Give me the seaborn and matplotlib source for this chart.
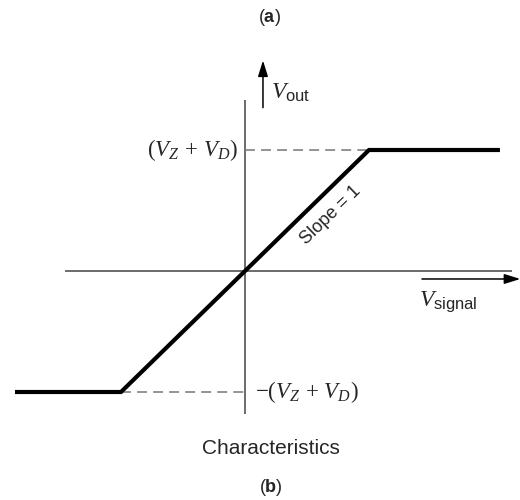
import matplotlib
matplotlib.use("Agg")
import matplotlib.pyplot as plt
import numpy as np
import pandas as pd
import seaborn as sns

sns.set_theme(style="white")
plt.rcParams["font.family"] = ["Liberation Sans", "DejaVu Sans"]
plt.rcParams["mathtext.fontset"] = "custom"
plt.rcParams["mathtext.rm"] = "Liberation Serif"
plt.rcParams["mathtext.it"] = "Liberation Serif:italic"
plt.rcParams["mathtext.bf"] = "Liberation Sans:bold"
plt.rcParams["mathtext.sf"] = "Liberation Sans"

# Limiter transfer characteristic, normalised to (V_Z + V_D) = 1
v_signal = [-1.855, -1.0, 1.0, 2.056]
v_out = [-1.0, -1.0, 1.0, 1.0]
clamp_level = 1.0

df = pd.DataFrame({"V_signal": v_signal, "V_out": v_out})

fig = plt.figure(figsize=(5.2, 5.0), dpi=100)
ax = fig.add_axes([0, 0, 1, 1])

# horizontal 124 px per unit, vertical 121 px per unit, origin at (245, 271)
ux, uy = 124.0, 121.0
ax.set_xlim(-245 / ux, (520 - 245) / ux)
ax.set_ylim(-(500 - 271) / uy, 271 / uy)
ax.set_axis_off()

# coordinate axes
ax.plot([-1.452, 2.153], [0, 0], color="#444444", lw=1.1, solid_capstyle="butt")
ax.plot([0, 0], [-1.18, 1.413], color="#444444", lw=1.1, solid_capstyle="butt")

# dashed guide lines to the clamp levels
ax.plot([0, clamp_level], [clamp_level, clamp_level], color="#777777", lw=1.1,
        dashes=(6.5, 4))
ax.plot([-clamp_level, 0], [-clamp_level, -clamp_level], color="#777777", lw=1.1,
        dashes=(6.5, 4))

# characteristic
sns.lineplot(data=df, x="V_signal", y="V_out", ax=ax, color="black", lw=3,
             sort=False, legend=False)
ax.lines[-1].set_solid_joinstyle("miter")
ax.lines[-1].set_solid_capstyle("butt")
ax.set_xlabel("")
ax.set_ylabel("")

# axis arrows
ax.annotate("", xy=(0.145, 1.74), xytext=(0.145, 1.35),
            arrowprops=dict(arrowstyle="-|>,head_length=0.8,head_width=0.25",
                            color="black", lw=1.1, shrinkA=0, shrinkB=0))
ax.annotate("", xy=(2.22, -0.066), xytext=(1.427, -0.066),
            arrowprops=dict(arrowstyle="-|>,head_length=0.8,head_width=0.25",
                            color="black", lw=1.1, shrinkA=0, shrinkB=0))

ax.text(0.21, 1.47, r"$V_{\mathsf{out}}$", fontsize=17, ha="left", va="center")
ax.text(1.40, -0.25, r"$V_{\mathsf{signal}}$", fontsize=17, ha="left", va="center")

ax.text(-0.06, clamp_level, r"$(V_Z\,+\,V_D)$", fontsize=16.5, ha="right", va="center")
ax.text(0.08, -clamp_level, r"$-(V_Z\,+\,V_D)$", fontsize=16.5, ha="left", va="center")

ax.text(0.69, 0.46, "Slope = 1", fontsize=13, rotation=44, ha="center", va="center",
        rotation_mode="anchor")

fig.text(269 / 520, 1 - 17 / 500, r"$\mathsf{(}\mathbf{a}\mathsf{)}$", fontsize=13,
         ha="center", va="center")
ax.text((271 - 245) / ux, -(448 - 271) / uy, "Characteristics", fontsize=15,
        ha="center", va="center")
fig.text(271 / 520, 1 - 487 / 500, r"$\mathsf{(}\mathbf{b}\mathsf{)}$", fontsize=13,
         ha="center", va="center")

fig.savefig("out.png", dpi=100)
